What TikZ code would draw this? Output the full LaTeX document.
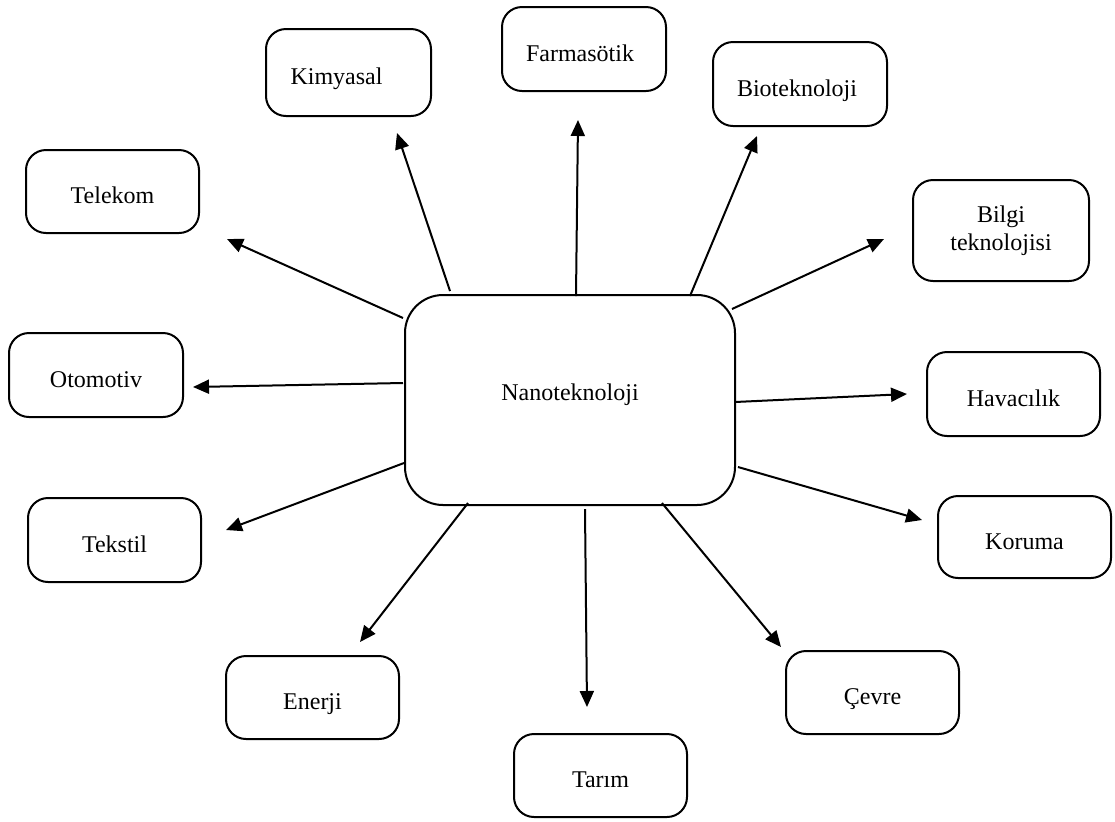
\documentclass[tikz,border=0pt]{standalone}
\usepackage{fontspec}
\setmainfont{Liberation Serif}
\usetikzlibrary{arrows.meta,calc}
\tikzset{
  sbox/.style={draw, line width=1pt, rounded corners=10pt, inner sep=0pt,
    minimum width=86.5pt, minimum height=41.5pt,
    font=\fontsize{12}{14}\selectfont, text height=12pt, text depth=0pt},
  bigbox/.style={draw, line width=1pt, rounded corners=19pt, inner sep=0pt,
    minimum width=165pt, minimum height=105pt,
    font=\fontsize{12}{14}\selectfont, text height=8pt, text depth=7.1pt},
  arr/.style={line width=1pt, -{Triangle[length=8pt, width=7pt]}}
}
\begin{document}
\begin{tikzpicture}[x=0.5pt, y=-0.5pt]
\useasboundingbox (0,0) rectangle (1115,821);

% central node
\node[bigbox] (nano) at (570,400) {Nanoteknoloji};

% outer nodes
\node[sbox, minimum width=82.5pt, minimum height=43.5pt] (kim) at (348.5,72.5) {Kimyasal\hspace*{12pt}};
\node[sbox, minimum width=82pt, minimum height=42pt] (farm) at (584,49) {Farmasötik\hspace*{4pt}};
\node[sbox, minimum width=87pt, minimum height=42pt] (bio) at (800,84) {Bioteknoloji\hspace*{3pt}};
\node[sbox] (tel) at (112.5,191.5) {Telekom};
\node[sbox, minimum width=88pt, minimum height=50.5pt, text height=, text depth=, align=center] (bilgi) at (1001,230.5) {Bilgi\\teknolojisi};
\node[sbox, minimum width=87pt, minimum height=42pt] (oto) at (96,375) {Otomotiv};
\node[sbox, minimum height=42pt] (hav) at (1013.5,394) {Havacılık};
\node[sbox, minimum height=42pt] (tek) at (114.5,540) {Tekstil};
\node[sbox, minimum height=41pt] (kor) at (1024.5,537) {Koruma};
\node[sbox] (ene) at (312.5,697.5) {Enerji};
\node[sbox] (cev) at (872.5,692.5) {Çevre};
\node[sbox] (tar) at (600.5,775.5) {Tarım};

% arrow tips (free ends)
\coordinate (t-kim) at (397,133);
\coordinate (t-farm) at (578,120);
\coordinate (t-bio) at (757,136);
\coordinate (t-bilgi) at (884,239);
\coordinate (t-tel) at (227,239);
\coordinate (t-oto) at (193,387);
\coordinate (t-hav) at (907,394);
\coordinate (t-tek) at (226,530);
\coordinate (t-kor) at (922,520);
\coordinate (t-ene) at (360,642);
\coordinate (t-tar) at (587,707);
\coordinate (t-cev) at (781,647);

% connectors
\draw[arr] ($(nano.center)+(-120,-109)$) -- (t-kim);
\draw[arr] ($(nano.center)+(6,-104)$) -- (t-farm);
\draw[arr] ($(nano.center)+(120,-104)$) -- (t-bio);
\draw[arr] ($(nano.center)+(162,-91)$) -- (t-bilgi);
\draw[arr] ($(nano.center)+(-167,-82)$) -- (t-tel);
\draw[arr] ($(nano.center)+(-167,-17)$) -- (t-oto);
\draw[arr] ($(nano.center)+(165,2)$) -- (t-hav);
\draw[arr] ($(nano.center)+(-166,63)$) -- (t-tek);
\draw[arr] ($(nano.center)+(168,67)$) -- (t-kor);
\draw[arr] ($(nano.center)+(-102,103)$) -- (t-ene);
\draw[arr] ($(nano.center)+(15,109)$) -- (t-tar);
\draw[arr] ($(nano.center)+(92,103)$) -- (t-cev);
\end{tikzpicture}
\end{document}
